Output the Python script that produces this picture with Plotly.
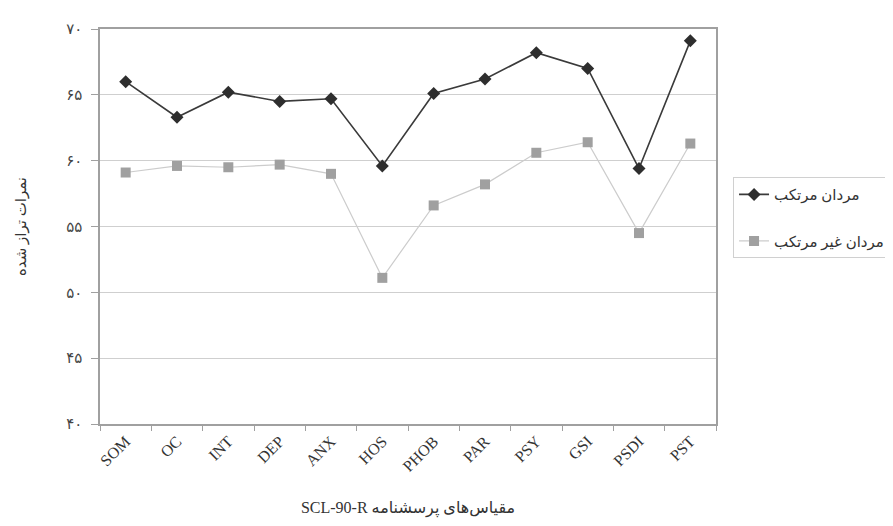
import plotly.graph_objects as go

categories = ["SOM", "OC", "INT", "DEP", "ANX", "HOS", "PHOB", "PAR", "PSY", "GSI", "PSDI", "PST"]
offenders = [66.0, 63.3, 65.2, 64.5, 64.7, 59.6, 65.1, 66.2, 68.2, 67.0, 59.4, 69.1]
non_offenders = [59.1, 59.6, 59.5, 59.7, 59.0, 51.1, 56.6, 58.2, 60.6, 61.4, 54.5, 61.3]
y_tickvals = [40, 45, 50, 55, 60, 65, 70]
y_ticktext = ["۴۰", "۴۵", "۵۰", "۵۵", "۶۰", "۶۵", "۷۰"]

FONT = "Liberation Serif, DejaVu Serif, DejaVu Sans, serif"

fig = go.Figure()
fig.add_trace(go.Scatter(
    x=categories, y=offenders, name="مردان مرتکب", mode="lines+markers",
    line=dict(color="#3a3a3a", width=1.6),
    marker=dict(symbol="diamond", size=10, color="#2e2e2e"),
    legendgroup="a",
))
fig.add_trace(go.Scatter(
    x=categories, y=non_offenders, name="مردان غیر مرتکب", mode="lines+markers",
    line=dict(color="#cccccc", width=1.2),
    marker=dict(symbol="square", size=10, color="#a0a0a0"),
    legendgroup="b",
))

fig.update_layout(
    width=893, height=526,
    margin=dict(l=92, r=184, t=21, b=110),
    paper_bgcolor="white", plot_bgcolor="white",
    font=dict(family=FONT, size=14, color="#333333"),
    showlegend=True,
    legend=dict(
        x=1.026, y=0.625, xanchor="left", yanchor="top",
        bordercolor="#d0d0d0", borderwidth=1, bgcolor="white",
        font=dict(family=FONT, size=15, color="#333333"),
        tracegroupgap=24,
    ),
    xaxis=dict(
        type="category", range=[-0.5, 11.5], automargin=False,
        tickangle=-45, tickson="boundaries", ticks="outside", ticklen=5,
        tickcolor="#a0a0a0", showgrid=False,
        showline=True, linecolor="#a0a0a0", linewidth=1.5, mirror=True,
        tickfont=dict(family=FONT, size=16, color="#333333"),
        title=dict(text="SCL-90-R مقیاس‌های پرسشنامه", standoff=28,
                   font=dict(family=FONT, size=16, color="#333333")),
    ),
    yaxis=dict(
        range=[40, 70], tickvals=y_tickvals, ticktext=y_ticktext, automargin=False,
        ticks="outside", ticklen=7, tickcolor="#a0a0a0", ticklabelstandoff=6,
        showgrid=True, gridcolor="#cfcfcf", gridwidth=1,
        showline=True, linecolor="#a0a0a0", linewidth=1.5, mirror=True,
        zeroline=False,
        tickfont=dict(family=FONT, size=15, color="#444444"),
        title=dict(text="نمرات تراز شده", standoff=36,
                   font=dict(family=FONT, size=15, color="#333333")),
    ),
)

fig.write_html("out.html")
